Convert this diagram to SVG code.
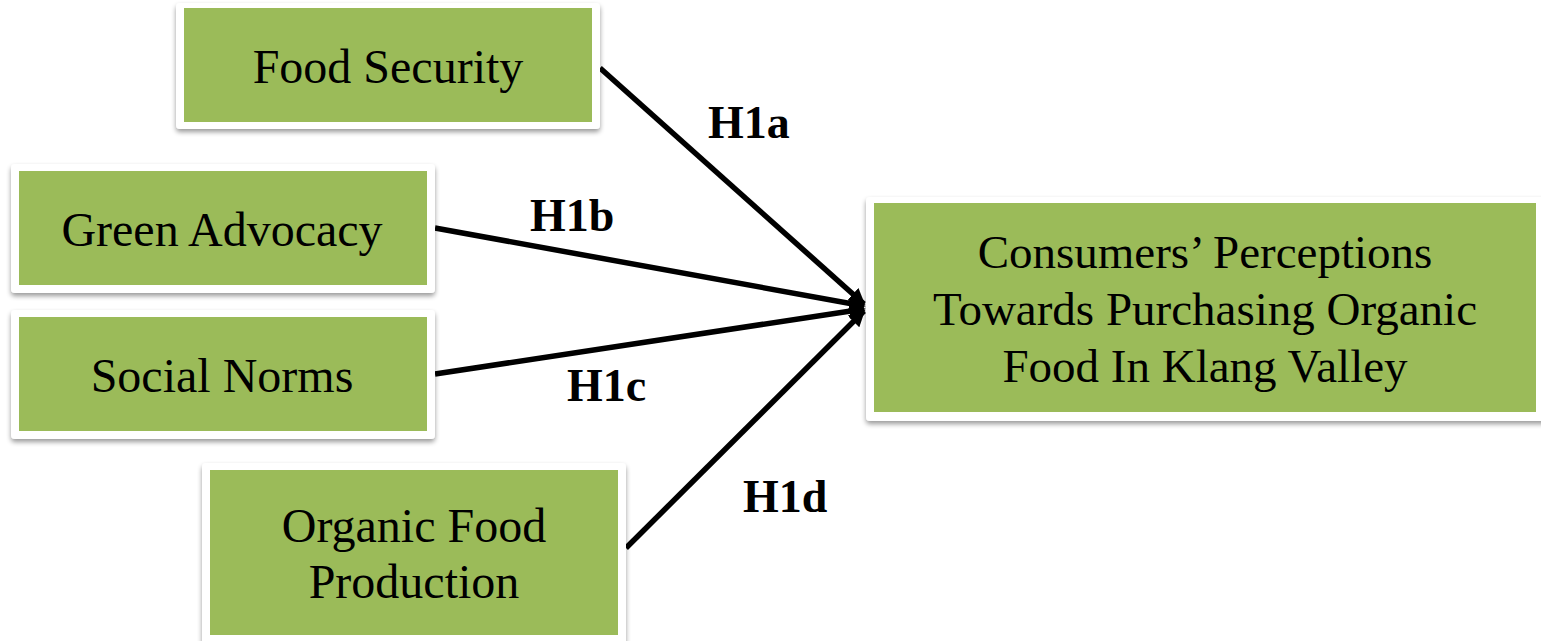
<svg xmlns="http://www.w3.org/2000/svg" width="1541" height="641" viewBox="0 0 1541 641">
<style>
.frame{fill:#ffffff;filter:url(#sh);}
.box{fill:#9BBB59;}
.t{font-family:"Liberation Serif","Times New Roman",serif;font-size:48px;fill:#000;text-anchor:middle;}
.tc{font-family:"Liberation Serif","Times New Roman",serif;font-size:47px;fill:#000;text-anchor:middle;}
.lbl{font-family:"Liberation Serif","Times New Roman",serif;font-size:46px;font-weight:bold;fill:#000;}
.conn{stroke:#000;stroke-width:5.5;fill:none;marker-end:url(#arr);}
</style>
<defs>
<filter id="sh" x="-5%" y="-10%" width="110%" height="125%">
<feGaussianBlur in="SourceAlpha" stdDeviation="2.5"/>
<feOffset dx="0" dy="3" result="b"/>
<feComponentTransfer><feFuncA type="linear" slope="0.4"/></feComponentTransfer>
<feMerge><feMergeNode/><feMergeNode in="SourceGraphic"/></feMerge>
</filter>
<marker id="arr" viewBox="0 0 10 10" refX="9" refY="5" markerWidth="3" markerHeight="3" orient="auto" markerUnits="strokeWidth">
<path d="M0,0 L10,5 L0,10 z" fill="#000"/>
</marker>
</defs>
<rect width="1541" height="641" fill="#fff"/>
<g id="connectors">
<line class="conn" x1="600" y1="68" x2="864" y2="304"/>
<line class="conn" x1="435" y1="228" x2="864" y2="306"/>
<line class="conn" x1="435" y1="374" x2="864" y2="309"/>
<line class="conn" x1="626" y1="548" x2="864" y2="311"/>
</g>
<g id="labels">
<text class="lbl" x="708" y="138">H1a</text>
<text class="lbl" x="530" y="231">H1b</text>
<text class="lbl" x="567" y="401">H1c</text>
<text class="lbl" x="743" y="512">H1d</text>
</g>
<g id="food-security">
<rect class="frame" x="176" y="3" width="424" height="126" rx="4"/>
<rect class="box" x="184" y="8" width="408" height="114"/>
<text class="t" x="388" y="83">Food Security</text>
</g>
<g id="green-advocacy">
<rect class="frame" x="11" y="164" width="424" height="129" rx="4"/>
<rect class="box" x="19" y="171" width="408" height="114"/>
<text class="t" x="222" y="246">Green Advocacy</text>
</g>
<g id="social-norms">
<rect class="frame" x="11" y="310" width="424" height="129" rx="4"/>
<rect class="box" x="19" y="317" width="408" height="114"/>
<text class="t" x="222" y="392">Social Norms</text>
</g>
<g id="organic-food-production">
<rect class="frame" x="202" y="463" width="424" height="190" rx="4"/>
<rect class="box" x="210" y="470" width="408" height="165"/>
<text class="t" x="414" y="542">Organic Food</text>
<text class="t" x="414" y="598">Production</text>
</g>
<g id="consumers-perceptions">
<rect class="frame" x="866" y="197" width="690" height="224" rx="4"/>
<rect class="box" x="874" y="203" width="662" height="209"/>
<text class="tc" x="1205" y="268">Consumers’ Perceptions</text>
<text class="tc" x="1205" y="325">Towards Purchasing Organic</text>
<text class="tc" x="1205" y="382">Food In Klang Valley</text>
</g>
</svg>
